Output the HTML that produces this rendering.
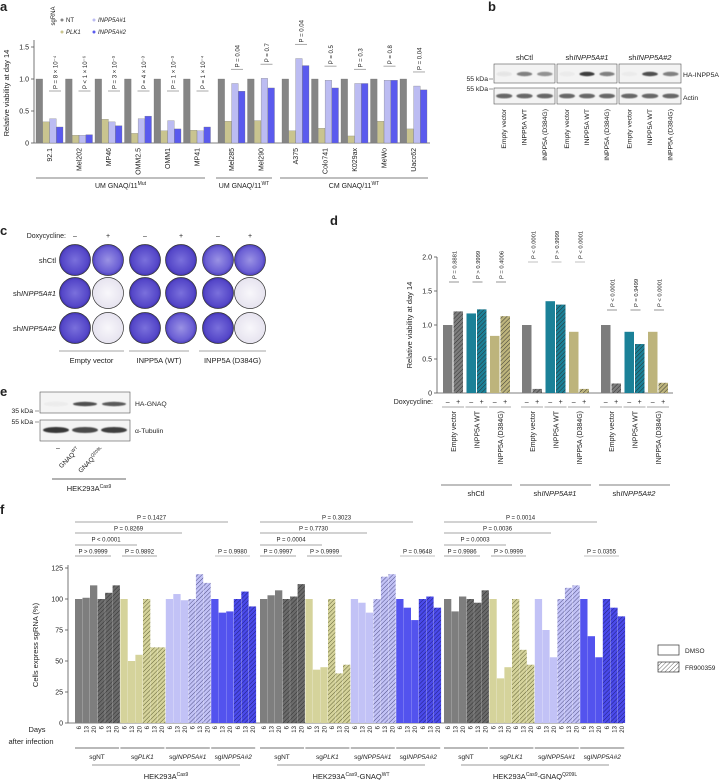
<!DOCTYPE html>
<html><head><meta charset="utf-8"><style>
html,body{margin:0;padding:0;background:#fff}
svg{display:block;font-family:"Liberation Sans",sans-serif}
text{fill:#222}
</style></head><body>
<svg id="fig" width="721" height="780" viewBox="0 0 721 780" xmlns="http://www.w3.org/2000/svg">
<defs>
<filter id="blur1"><feGaussianBlur stdDeviation="1.2"/></filter>
<filter id="blur2"><feGaussianBlur stdDeviation="0.6"/></filter>
<radialGradient id="plate" cx="50%" cy="50%" r="50%"><stop offset="0" stop-color="#7a70dc"/><stop offset="0.85" stop-color="#5446c8"/><stop offset="1" stop-color="#3e32a8"/></radialGradient>
<radialGradient id="plateL" cx="50%" cy="50%" r="50%"><stop offset="0" stop-color="#9a92e4"/><stop offset="0.8" stop-color="#6a5ed4"/><stop offset="1" stop-color="#4a3eb8"/></radialGradient>
<radialGradient id="plateE" cx="50%" cy="50%" r="50%"><stop offset="0" stop-color="#f8f7fb"/><stop offset="1" stop-color="#e6e3ef"/></radialGradient>
</defs>
<g id="root"></g>
</svg>
<script>
// ---------- Panel a data ----------
const aLines = ["92.1","Mel202","MP46","OMM2.5","OMM1","MP41","Mel285","Mel290","A375","Colo741","K029ax","MeWo","Uacc62"];
const aNT = [1,1,1,1,1,1,1,1,1,1,1,1,1];
const aPLK1 = [0.33,0.12,0.37,0.15,0.19,0.20,0.34,0.35,0.19,0.23,0.11,0.34,0.22];
const aSg1 = [0.38,0.12,0.33,0.38,0.35,0.19,0.93,1.01,1.32,0.98,0.93,0.98,0.89];
const aSg2 = [0.25,0.13,0.27,0.42,0.22,0.25,0.81,0.86,1.21,0.86,0.93,0.98,0.83];
const aPvals = ["P = 8 × 10⁻⁴","P < 1 × 10⁻⁶","P = 3 × 10⁻³","P = 4 × 10⁻³","P = 1 × 10⁻³","P = 1 × 10⁻⁴","P = 0.04","P = 0.7","P = 0.04","P = 0.5","P = 0.3","P = 0.8","P = 0.04"];
const aTicks = [0,0.5,1.0,1.5];
const aTickLabels = ["0","0.5","1.0","1.5"];
// ---------- Panel d data ----------
const dGroups = ["shCtl","shINPP5A#1","shINPP5A#2"];
const dConstructs = ["Empty vector","INPP5A WT","INPP5A (D384G)"];
const dMinus = [[1.0,1.17,0.84],[1.0,1.35,0.90],[1.0,0.90,0.90]];
const dPlus = [[1.20,1.23,1.13],[0.06,1.30,0.06],[0.14,0.72,0.15]];
const dPvals = [["P = 0.8881","P > 0.9999","P = 0.4006"],["P < 0.0001","P > 0.9999","P < 0.0001"],["P < 0.0001","P = 0.9499","P < 0.0001"]];
const dTicks = [0,0.5,1.0,1.5,2.0];
const dTickLabels = ["0","0.5","1.0","1.5","2.0"];
// ---------- Panel f data ----------
const fBlocks = ["HEK293A","HEK293A","HEK293A"];
const fSg = ["sgNT","sgPLK1","sgINPP5A#1","sgINPP5A#2"];
const fDays = ["6","13","20"];
const fDMSO = [
 [[100,101,111],[100,50,55],[100,104,99],[100,89,90]],
 [[100,103,107],[100,43,45],[100,97,89],[100,93,83]],
 [[100,90,102],[100,36,45],[100,75,53],[100,70,53]]];
const fFR = [
 [[100,105,111],[100,61,61],[100,120,113],[100,106,94]],
 [[100,102,112],[100,40,47],[100,118,120],[100,102,93]],
 [[100,97,107],[100,59,47],[100,109,111],[100,93,86]]];
const fPvals = [
 ["P = 0.1427","P = 0.8269","P < 0.0001","P > 0.9999","P = 0.9892","P = 0.9980"],
 ["P = 0.3023","P = 0.7730","P = 0.0004","P = 0.9997","P > 0.9999","P = 0.9648"],
 ["P = 0.0014","P = 0.0036","P = 0.0003","P = 0.9986","P > 0.9999","P = 0.0355"]];
const fTicks = [0,25,50,75,100,125];

const NS="http://www.w3.org/2000/svg";
const root=document.getElementById('root');
const defs=document.querySelector('defs');
function el(tag,attrs,parent,txt){const e=document.createElementNS(NS,tag);for(const k in attrs)e.setAttribute(k,attrs[k]);if(txt!==undefined)e.textContent=txt;(parent||root).appendChild(e);return e;}
function line(x1,y1,x2,y2,c,w,p){return el('line',{x1,y1,x2,y2,stroke:c||'#222','stroke-width':w||0.8},p);}
function txt(x,y,s,size,anchor,p,extra){const t=el('text',Object.assign({x,y,'font-size':size||7,'text-anchor':anchor||'start'},extra||{}),p,s);return t;}
function rtxt(x,y,s,size,anchor,p){const t=el('text',{x:0,y:0,'font-size':size||7,'text-anchor':anchor||'end',transform:`translate(${x},${y}) rotate(-90)`},p,s);return t;}
let patId=0;
function hatch(color,dark){const id='h'+(patId++);const pt=el('pattern',{id,patternUnits:'userSpaceOnUse',width:3,height:3,patternTransform:'rotate(45)'},defs);el('rect',{x:0,y:0,width:3,height:3,fill:color},pt);el('line',{x1:0,y1:0,x2:0,y2:3,stroke:dark,'stroke-width':0.9},pt);return `url(#${id})`;}
function label(t,x,y){const g=el('text',{x,y,'font-size':13,'font-weight':'bold'},root,t);}

// ================= Panel a =================
label('a',0,11);
const ga=el('g',{});
const aY0=143,aK=64;
const ay=v=>aY0-v*aK;
const ax=i=>36+i*29.5+(i>=6?5:0)+(i>=8?5:0);
const aCols=['#858585','#c9c48f','#bcbcf2','#5a5aee'];
line(34,40,34,aY0,'#555',0.8,ga);line(34,aY0,430,aY0,'#555',0.8,ga);
aTicks.forEach((t,i)=>{line(31,ay(t),34,ay(t),'#555',0.8,ga);txt(29,ay(t)+2.5,aTickLabels[i],7,'end',ga);});
const ayt=rtxt(9,93,'Relative viability at day 14',7.5,'middle',ga);
aLines.forEach((nm,i)=>{
 const vals=[aNT[i],aPLK1[i],aSg1[i],aSg2[i]];
 vals.forEach((v,j)=>{const r=el('rect',{x:ax(i)+j*6.8,y:ay(v),width:6.6,height:aY0-ay(v),fill:aCols[j],stroke:'#777','stroke-width':0.3},ga);
  });
 const top=Math.max(aSg1[i],aSg2[i])+0.22;
 const ly=Math.min(ay(top),91);
 line(ax(i)+13,ly,ax(i)+25,ly,'#aaa',1,ga);
 rtxt(ax(i)+21.5,ly-2,aPvals[i],6,'start',ga);
 rtxt(ax(i)+16,aY0+5,nm,7,'end',ga);
});
[[36,205,'UM GNAQ/11','Mut'],[216,272,'UM GNAQ/11','WT'],[280,428,'CM GNAQ/11','WT']].forEach(g=>{
 line(g[0],178,g[1],178,'#555',0.8,ga);const t=txt((g[0]+g[1])/2,188,g[2],7,'middle',ga);el('tspan',{'font-size':5,dy:-3},t,g[3]);});
// legend a
rtxt(55,16,'sgRNA',6,'middle',ga);
[['NT',0,0],['PLK1',1,0],['INPP5A#1',2,1],['INPP5A#2',3,1]].forEach(l=>{const x=l[2]?94:62,y=[22,34][l[1]%2];
 el('circle',{cx:x,cy:y-2,r:1.5,fill:aCols[l[1]]},ga);const t=txt(x+4,y,l[0],6,'start',ga,{'font-style':l[0]==='NT'?'normal':'italic'});});

// ================= Panel b =================
label('b',488,11);
const gb=el('g',{});
const bBox=[[494,555],[557,617],[619,681]];
const bHA=[[0.08,0.6,0.5],[0.05,0.95,0.6],[0.03,0.85,0.6]];
bBox.forEach((b,k)=>{
 el('rect',{x:b[0],y:64,width:b[1]-b[0],height:19,fill:'#f3f3f3',stroke:'#555','stroke-width':0.6},gb);
 el('rect',{x:b[0],y:88,width:b[1]-b[0],height:16,fill:'#f3f3f3',stroke:'#555','stroke-width':0.6},gb);
 const w=(b[1]-b[0])/3;
 for(let j=0;j<3;j++){const cx=b[0]+w*(j+0.5);
  el('ellipse',{cx,cy:74,rx:w*0.38,ry:2.2,fill:'#333','fill-opacity':bHA[k][j],filter:'url(#blur2)'},gb);
  el('ellipse',{cx,cy:96,rx:w*0.4,ry:2.4,fill:'#444','fill-opacity':0.8,filter:'url(#blur2)'},gb);
  rtxt(cx+2,109,dConstructs[j],6.8,'end',gb);}
 const t=txt((b[0]+b[1])/2,60,'',7.5,'middle',gb);
 if(k===0)t.textContent='shCtl';else{el('tspan',{},t,'sh');el('tspan',{'font-style':'italic'},t,'INPP5A#'+k);}
});
txt(683,77,'HA-INPP5A',6.8,'start',gb);txt(683,100,'Actin',6.8,'start',gb);
txt(488,81,'55 kDa',6.8,'end',gb);line(489,79,493,79,'#555',0.6,gb);
txt(488,91,'55 kDa',6.8,'end',gb);line(489,89,493,89,'#555',0.6,gb);

// ================= Panel c =================
label('c',0,235);
const gc=el('g',{});
txt(66,238,'Doxycycline:',7,'end',gc);
const cX=[75,108,145,181,218,250],cY=[260,293,328];
const cEmpty=[[0,0,0,0,0,0],[0,1,0,0,0,1],[0,1,0,0,0,1]];
const cLight=[[0,1,0,0,1,1],[0,0,0,0,0,0],[0,0,0,1,0,0]];
cX.forEach((x,i)=>txt(x,238,i%2?'+':'–',7,'middle',gc));
['shCtl','shINPP5A#1','shINPP5A#2'].forEach((r,ri)=>{const t=txt(56,cY[ri]+3,'',7.5,'end',gc);
 if(ri===0)t.textContent=r;else{el('tspan',{},t,'sh');el('tspan',{'font-style':'italic'},t,'INPP5A#'+ri);}
 cX.forEach((x,i)=>{const e=cEmpty[ri][i];const c=el('circle',{cx:x,cy:cY[ri],r:15.5,fill:e?'url(#plateE)':(cLight[ri][i]?'url(#plateL)':'url(#plate)'),stroke:'#333','stroke-width':0.7},gc);
  });});
[[59,124,'Empty vector'],[129,189,'INPP5A (WT)'],[199,266,'INPP5A (D384G)']].forEach(g=>{line(g[0],351,g[1],351,'#888',0.8,gc);txt((g[0]+g[1])/2,363,g[2],7.5,'middle',gc);});

// ================= Panel e =================
label('e',0,396);
const ge=el('g',{});
el('rect',{x:40,y:392,width:90,height:21,fill:'#f4f4f4',stroke:'#555','stroke-width':0.6},ge);
el('rect',{x:40,y:420,width:90,height:21,fill:'#f4f4f4',stroke:'#555','stroke-width':0.6},ge);
[[56,0.05,0.9],[85,0.85,0.8],[114,0.8,0.85]].forEach(b=>{el('ellipse',{cx:b[0],cy:404,rx:12,ry:2.2,fill:'#333','fill-opacity':b[1],filter:'url(#blur2)'},ge);
 el('ellipse',{cx:b[0],cy:430,rx:13,ry:3,fill:'#222','fill-opacity':b[2],filter:'url(#blur2)'},ge);});
txt(135,406,'HA-GNAQ',6.8,'start',ge);txt(135,433,'α-Tubulin',6.8,'start',ge);
txt(33,413,'35 kDa',6.8,'end',ge);line(35,411,39,411,'#555',0.6,ge);
txt(33,424,'55 kDa',6.8,'end',ge);line(35,422,39,422,'#555',0.6,ge);
txt(58,450,'–',7,'middle',ge);
[[80,'WT'],[104,'Q209L']].forEach(l=>{const t=el('text',{x:0,y:0,'font-size':6.5,'text-anchor':'end',transform:`translate(${l[0]},${450}) rotate(-45)`},ge,'GNAQ');el('tspan',{'font-size':4.5,dy:-3},t,l[1]);});
line(52,479,126,479,'#333',0.7,ge);
{const t=txt(89,491,'HEK293A',7.5,'middle',ge);el('tspan',{'font-size':5,dy:-3},t,'Cas9');}

// ================= Panel d =================
label('d',330,225);
const gd=el('g',{});
const dY0=393,dK=68;const dy=v=>dY0-v*dK;
const dCols=['#7d7d7d','#1b8198','#bdb47c'];
const dHatch=dCols.map(c=>hatch(c,'#2a2a2a'));
line(437,257,437,dY0,'#555',0.8,gd);line(437,dY0,673,dY0,'#555',0.8,gd);
dTicks.forEach((t,i)=>{line(434,dy(t),437,dy(t),'#555',0.8,gd);txt(432,dy(t)+2.5,dTickLabels[i],7,'end',gd);});
{const t=rtxt(412,325,'Relative viability at day 14',7.5,'middle',gd);}
txt(433,404,'Doxycycline:',7,'end',gd);
const dPy=[282,262,310];
dGroups.forEach((g,gi)=>{const gx=443+gi*79;
 dConstructs.forEach((c,ci)=>{const x=gx+ci*23.5;
  const r1=el('rect',{x,y:dy(dMinus[gi][ci]),width:9.5,height:dY0-dy(dMinus[gi][ci]),fill:dCols[ci]},gd);
  
  const r2=el('rect',{x:x+10.5,y:dy(dPlus[gi][ci]),width:9.5,height:dY0-dy(dPlus[gi][ci]),fill:dHatch[ci]},gd);
  
  txt(x+4.7,404,'–',7,'middle',gd);txt(x+15.2,404,'+',7,'middle',gd);
  line(x-1,407,x+21,407,'#555',0.6,gd);
  rtxt(x+13,411,c,7,'end',gd);
  line(x+6,dPy[gi],x+16,dPy[gi],gi===1?'#bbb':'#888',0.9,gd);
  rtxt(x+13.5,dPy[gi]-3,dPvals[gi][ci],5.8,'start',gd);
 });
 line(gx-2,485,gx+69,485,'#555',0.8,gd);
 const t=txt(gx+33,496,'',7.5,'middle',gd);
 if(gi===0)t.textContent=g;else{el('tspan',{},t,'sh');el('tspan',{'font-style':'italic'},t,'INPP5A#'+gi);}
});

// ================= Panel f =================
label('f',0,514);
const gf=el('g',{});
const fY0=723,fK=1.24;const fy=v=>fY0-v*fK;
const fCols=['#7e7e7e','#d5d39b','#c2c2f6','#5353ee'];
const fHatch=[hatch('#6a6a6a','#2a2a2a'),hatch('#d5d39b','#55552a'),hatch('#c2c2f6','#44447a'),hatch('#4a4aea','#1a1a70')];
line(68,565,68,fY0,'#555',0.8,gf);line(68,fY0,623,fY0,'#555',0.8,gf);
fTicks.forEach(t=>{line(65,fy(t),68,fy(t),'#555',0.8,gf);txt(63,fy(t)+2.5,String(t),7,'end',gf);});
{const t=rtxt(38,645,'Cells express sgRNA (%)',7.5,'middle',gf);}
txt(37,732,'Days',7.5,'middle',gf);txt(31,744,'after infection',7.5,'middle',gf);
const fBlockX=[75,260,444];
const fBr=[[0,153,518,522],[0,107,529,533],[0,62,540,545],[0,36,552,556],[47,82,552,556],[140,175,552,556]];
const fSup2=['','WT','Q209L'];
fBlocks.forEach((b,bi)=>{const bx=fBlockX[bi];
 fSg.forEach((s,si)=>{const sx=bx+si*45.4;
  fDays.forEach((d,di)=>{
   const v1=fDMSO[bi][si][di],v2=fFR[bi][si][di];
   const r1=el('rect',{x:sx+di*7.5,y:fy(v1),width:7.3,height:fY0-fy(v1),fill:fCols[si]},gf);
   
   const r2=el('rect',{x:sx+22.6+di*7.5,y:fy(v2),width:7.3,height:fY0-fy(v2),fill:fHatch[si]},gf);
   
   rtxt(sx+di*7.5+6,726,d,6,'end',gf);rtxt(sx+22.6+di*7.5+6,726,d,6,'end',gf);
  });
  line(sx,748,sx+44,748,'#444',0.7,gf);
  const t=txt(sx+22,759,'',6.5,'middle',gf);
  if(si===0)t.textContent='sgNT';else if(si===1){el('tspan',{},t,'sg');el('tspan',{'font-style':'italic'},t,'PLK1');}
  else{el('tspan',{},t,'sg');el('tspan',{'font-style':'italic'},t,'INPP5A#'+(si-1));}
 });
 line(bx+17,765,bx+165,765,'#777',0.8,gf);
 const t=txt(bx+91,779,'HEK293A',7.5,'middle',gf);el('tspan',{'font-size':5,dy:-3},t,'Cas9');
 if(bi>0){el('tspan',{dy:3},t,'-GNAQ');el('tspan',{'font-size':5,dy:-3},t,fSup2[bi]);}
 fBr.forEach((br,k)=>{line(bx+br[0],br[3],bx+br[1],br[3],k===5?'#aaa':'#888',0.8,gf);txt(bx+(br[0]+br[1])/2,br[2]+1.5,fPvals[bi][k],6,'middle',gf);});
});
// legend f
el('rect',{x:658,y:645,width:21,height:10,fill:'#fff',stroke:'#333','stroke-width':0.7},gf);
el('rect',{x:658,y:662,width:21,height:10,fill:hatch('#ffffff','#555'),stroke:'#333','stroke-width':0.7},gf);
{const t=txt(685,653,'DMSO',6.5,'start',gf);}
{const t=txt(685,670,'FR900359',6.5,'start',gf);}
</script>
</body></html>
